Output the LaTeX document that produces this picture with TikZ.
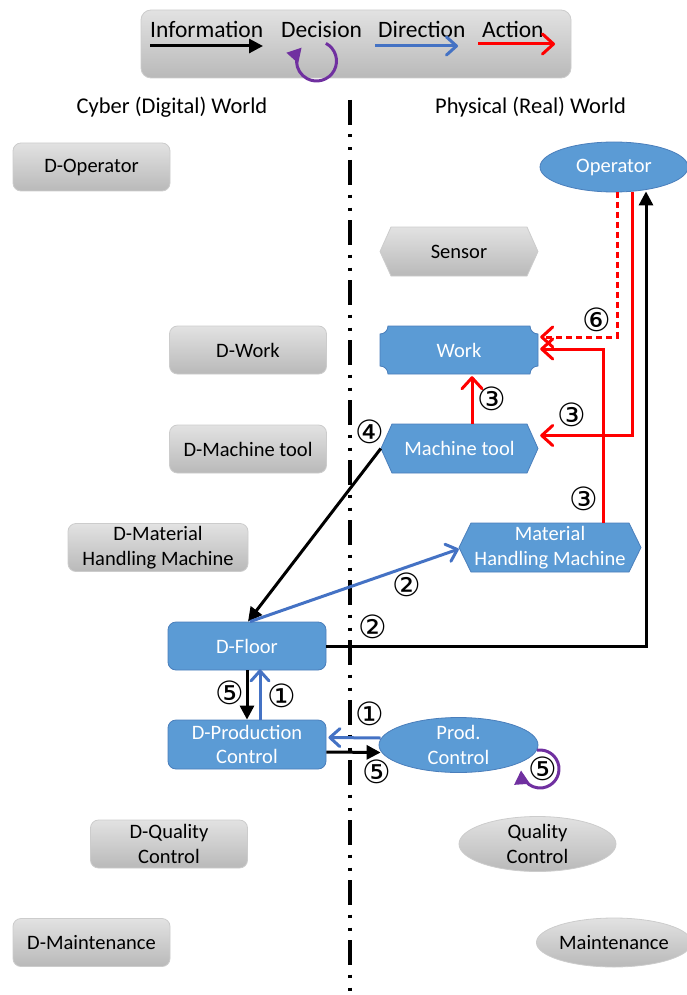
\documentclass[tikz,border=0pt]{standalone}
\usepackage{fontspec}
\setmainfont{Carlito}
\newfontfamily\circfont{DejaVu Sans}
\usetikzlibrary{arrows.meta,shapes.geometric,calc}

\definecolor{boxblue}{HTML}{5B9BD5}
\definecolor{boxblueline}{HTML}{4A7EBB}
\definecolor{dirblue}{HTML}{4472C4}
\definecolor{decpurple}{HTML}{7030A0}
\definecolor{graytop}{HTML}{E2E2E2}
\definecolor{graybot}{HTML}{B9B9B9}
\definecolor{grayline}{HTML}{CCCCCC}

\tikzset{
  nodefont/.style={font=\fontsize{20.5}{24.5}\selectfont},
  graysh/.style={top color=graytop, bottom color=graybot, draw=grayline, line width=0.8pt},
  bluesh/.style={fill=boxblue, draw=boxblueline, line width=0.8pt},
  graybox/.style={rectangle, rounded corners=8pt, graysh, nodefont, align=center,
    text=black, inner sep=0, minimum width=157pt, minimum height=48pt},
  bluebox/.style={rectangle, rounded corners=8pt, bluesh, nodefont, align=center,
    text=white, inner sep=0, minimum width=158pt, minimum height=48pt},
  blueell/.style={ellipse, bluesh, nodefont, align=center, text=white, inner sep=0},
  grayell/.style={ellipse, graysh, nodefont, align=center, text=black, inner sep=0},
  plaintext/.style={rectangle, inner sep=0, nodefont, align=center},
  headfont/.style={font=\fontsize{22.5}{26}\selectfont, inner sep=0},
  legfont/.style={font=\fontsize{23.5}{26}\selectfont, inner sep=0, anchor=base west},
  num/.style={font=\circfont\fontsize{32}{32}\selectfont, inner sep=0},
  % outline of a hexagon with pointed left and right ends
  hexoutline/.style n args={5}{insert path={
    (#1+#5,#2) -- (#3-#5,#2) -- (#3,{(#2+#4)/2}) -- (#3-#5,#4)
    -- (#1+#5,#4) -- (#1,{(#2+#4)/2}) -- cycle}},
  % outline of a plaque with concave corners
  plaqueoutline/.style n args={5}{insert path={
    (#1+#5,#2) -- (#3-#5,#2) arc[start angle=180,end angle=90,radius=#5]
    -- (#3,#4-#5) arc[start angle=-90,end angle=-180,radius=#5]
    -- (#1+#5,#4) arc[start angle=0,end angle=-90,radius=#5]
    -- (#1,#2+#5) arc[start angle=90,end angle=0,radius=#5] -- cycle}},
  info/.style={line width=3pt, black, -{Triangle[length=14pt,width=14pt]}},
  direction/.style={line width=3pt, dirblue,
    -{Straight Barb[length=10pt,width=18pt,line cap=round,line join=round]}},
  action/.style={line width=3pt, red,
    -{Straight Barb[length=11pt,width=20pt,line cap=round,line join=round]}},
  decision/.style={line width=3pt, decpurple, -{Triangle[length=14pt,width=15pt]}},
  divider/.style={line width=3.6pt,
    dash pattern=on 25pt off 9.5pt on 3pt off 10pt on 3pt off 9.5pt}
}

\begin{document}
\begin{tikzpicture}[x=1pt,y=-1pt]
\useasboundingbox (0,0) rectangle (687,995);

% ---------- legend ----------
\node[rectangle, rounded corners=10pt, graysh, minimum width=430pt, minimum height=68pt,
  inner sep=0] (legend) at (356,44) {};
\node[legfont] (linfo) at (150,38) {Information};
\node[legfont] (ldec) at (281,38) {Decision};
\node[legfont] (ldir) at (378,38) {Direction};
\node[legfont] (lact) at (482,38) {Action};
\coordinate (li1) at (150,46); \coordinate (li2) at (263,46);
\coordinate (ld1) at (375,46); \coordinate (ld2) at (458,46);
\coordinate (la1) at (478,44); \coordinate (la2) at (555,44);
\coordinate (lloop) at (316.5,61);
\draw[info] (li1) -- (li2);
\draw[direction] (ld1) -- (ld2);
\draw[action] (la1) -- (la2);
\draw[decision] ($(lloop)+(-62:20)$) arc[start angle=-62,end angle=222,radius=20];

% ---------- headings and divider ----------
\node[headfont] (cyber) at (172,107) {Cyber (Digital) World};
\node[headfont] (phys) at (530.5,107) {Physical (Real) World};
\coordinate (divtop) at (350,100);
\coordinate (divbot) at (350,1000);
\draw[divider] (divtop) -- (divbot);

% ---------- cyber world ----------
\node[graybox] (dop) at (91.5,167) {D-Operator};
\node[graybox] (dwork) at (248,350) {D-Work};
\node[graybox] (dmt) at (248,449) {D-Machine tool};
\node[graybox, minimum width=180pt] (dmhm) at (158,547.5) {D-Material\\Handling Machine};
\node[bluebox] (dfloor) at (247,646) {D-Floor};
\node[bluebox, minimum height=49pt] (dprod) at (247,744.5) {D-Production\\Control};
\node[graybox] (dqc) at (169,844) {D-Quality\\Control};
\node[graybox] (dmaint) at (91.5,942.5) {D-Maintenance};

% ---------- physical world ----------
\node[blueell, minimum width=148pt, minimum height=50pt] (op) at (614,167) {Operator};

\path[graysh, hexoutline={380}{227}{538}{276}{11}];
\node[plaintext, minimum width=158pt, minimum height=49pt] (sensor) at (459,251.5) {Sensor};

\path[bluesh, plaqueoutline={380}{326}{538}{374}{8}];
\node[plaintext, text=white, minimum width=158pt, minimum height=48pt] (work) at (459,350) {Work};

\path[bluesh, hexoutline={381}{424}{538}{473}{11}];
\node[plaintext, text=white, minimum width=157pt, minimum height=49pt] (mt) at (459.5,448.5) {Machine tool};

\path[bluesh, hexoutline={459}{523}{641}{572}{12}];
\node[plaintext, text=white, minimum width=182pt, minimum height=49pt] (mhm) at (550,547.5) {Material\\Handling Machine};

\node[blueell, minimum width=159pt, minimum height=50pt] (pc) at (458.5,745) {Prod.\\Control};
\node[grayell, minimum width=157pt, minimum height=48pt] (qc) at (537.5,844) {Quality\\Control};
\node[grayell, minimum width=154pt, minimum height=49pt] (maint) at (614,942.5) {Maintenance};

% ---------- actions ----------
\draw[action, dash pattern=on 6pt off 4pt] ([xshift=3pt]op.south) |- ([xshift=2pt,yshift=13pt]work.east);
\draw[action] ([xshift=18pt]op.south) |- ([xshift=2pt,yshift=13pt]mt.east);
\draw[action] ([xshift=53pt]mhm.north) |- ([xshift=2pt,yshift=1pt]work.east);
\draw[action] ([xshift=12.5pt]mt.north) -- ([xshift=13pt,yshift=-2pt]work.south);

% ---------- information ----------
\draw[info] (dfloor.east) -| ([xshift=32pt,yshift=1pt]op.south);
\draw[info] (mt.west) -- ([xshift=1pt]dfloor.north);
\draw[info] (dfloor.south) -- (dprod.north);
\draw[info] ([yshift=-7.5pt]dprod.east) -- ([yshift=-7.5pt,xshift=2pt]pc.west);

% ---------- directions ----------
\draw[direction] ([xshift=3pt]dfloor.north) -- ([yshift=-1.5pt]mhm.west);
\draw[direction] ([xshift=13pt]dprod.north) -- ([xshift=13pt,yshift=1pt]dfloor.south);
\draw[direction] ([yshift=7pt,xshift=2pt]pc.west) -- ([yshift=7pt,xshift=2pt]dprod.east);

% ---------- decision ----------
\coordinate (pcloop) at (540,769);
\draw[decision] ($(pcloop)+(-99:19)$) arc[start angle=-99,end angle=176,radius=19];

% ---------- step numbers ----------
\node[num] (s6) at (597,320) {⑥};
\node[num] (s3a) at (492,399) {③};
\node[num] (s3b) at (572,415) {③};
\node[num] (s3c) at (584,499) {③};
\node[num] (s4) at (370,432) {④};
\node[num] (s2a) at (407,585) {②};
\node[num] (s2b) at (373,627) {②};
\node[num] (s5a) at (230,693) {⑤};
\node[num] (s1a) at (282,696) {①};
\node[num] (s1b) at (370,714) {①};
\node[num] (s5b) at (377,772) {⑤};
\node[num] (s5c) at (543,769) {⑤};
\end{tikzpicture}
\end{document}
